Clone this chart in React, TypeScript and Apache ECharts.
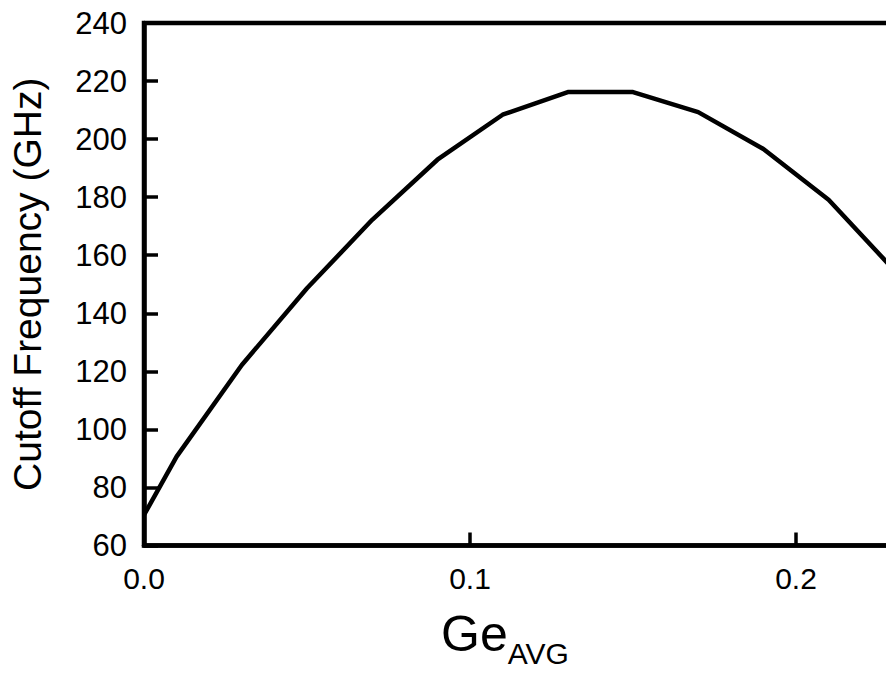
import React, { useEffect, useRef } from "react";
import * as echarts from "echarts";

const geAvg = [0, 0.01, 0.03, 0.05, 0.07, 0.09, 0.11, 0.13, 0.15, 0.17, 0.19, 0.21, 0.23];
const cutoffGHz = [70.5, 90.6, 122.2, 148.6, 172.2, 192.9, 208.4, 216.2, 216.2, 209.3, 196.6, 179.1, 155];
const yTitle = "Cutoff Frequency (GHz)";
const xTitleMain = "Ge";
const xTitleSub = "AVG";

const FONT = "'Liberation Sans', Arial, Helvetica, sans-serif";

export default function App() {
  const ref = useRef<HTMLDivElement>(null);
  useEffect(() => {
    if (!ref.current) return;
    const chart = echarts.init(ref.current, null, { renderer: "svg" });
    const data = geAvg.map((x, i) => [x, cutoffGHz[i]]);
    chart.setOption({
      animation: false,
      backgroundColor: "#fff",
      grid: {
        left: 144,
        top: 23,
        right: 41,
        bottom: 127.5,
        containLabel: false,
        outerBoundsMode: "none",
        show: true,
        borderColor: "#000",
        borderWidth: 4.5,
        backgroundColor: "transparent",
      },
      xAxis: {
        type: "value",
        min: 0,
        max: 0.25,
        interval: 0.1,
        axisLine: { show: true, lineStyle: { color: "#000", width: 4.5 } },
        axisTick: { show: true, inside: true, length: 13, lineStyle: { color: "#000", width: 3.5 } },
        splitLine: { show: false },
        axisLabel: {
          color: "#000",
          fontSize: 30,
          fontFamily: FONT,
          margin: 18,
          showMaxLabel: false,
          formatter: (v: number) => v.toFixed(1),
        },
      },
      yAxis: {
        type: "value",
        min: 60,
        max: 240,
        interval: 20,
        name: yTitle,
        nameLocation: "middle",
        nameRotate: 90,
        nameGap: 97,
        nameTextStyle: { color: "#000", fontSize: 39, fontFamily: FONT },
        axisLine: { show: true, lineStyle: { color: "#000", width: 4.5 } },
        axisTick: { show: true, inside: true, length: 14, lineStyle: { color: "#000", width: 3.5 } },
        splitLine: { show: false },
        axisLabel: { color: "#000", fontSize: 31, fontFamily: FONT, margin: 17 },
      },
      graphic: [
        {
          type: "text",
          left: 441,
          top: 609,
          style: {
            text: `{a|${xTitleMain}}{b|${xTitleSub}}`,
            fill: "#000",
            rich: {
              a: { fontSize: 50, fontFamily: FONT, lineHeight: 50, padding: [0, 0, 9, 0], verticalAlign: "bottom", fill: "#000" },
              b: { fontSize: 30, fontFamily: FONT, lineHeight: 30, verticalAlign: "bottom", fill: "#000" },
            },
          },
        },
      ],
      series: [
        {
          type: "line",
          data,
          showSymbol: false,
          symbol: "none",
          lineStyle: { color: "#000", width: 4.5 },
          clip: true,
        },
      ],
    });
    return () => chart.dispose();
  }, []);
  return (
    <div style={{ position: "absolute", left: 0, top: 0, width: 886, height: 673, overflow: "hidden", background: "#fff" }}>
      <div ref={ref} style={{ width: 1000, height: 673 }} />
    </div>
  );
}
